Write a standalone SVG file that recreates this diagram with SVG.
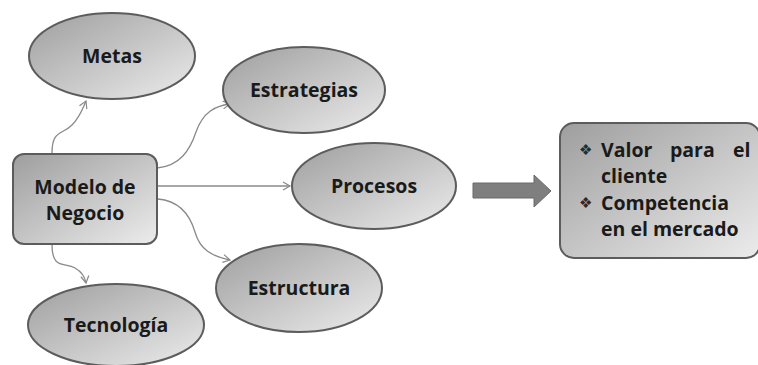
<svg xmlns="http://www.w3.org/2000/svg" width="758" height="365" viewBox="0 0 758 365">
<defs>
<linearGradient id="g" x1="0" y1="0" x2="1" y2="1">
<stop offset="0" stop-color="#9e9e9e"/>
<stop offset="1" stop-color="#ececec"/>
</linearGradient>
<marker id="ah" markerWidth="10" markerHeight="10" refX="8" refY="5" orient="auto" markerUnits="userSpaceOnUse">
<path d="M1,1 L8,5 L1,9" fill="none" stroke="#8a8a8a" stroke-width="1.2"/>
</marker>
</defs>
<style>
.n{fill:url(#g);stroke:#5c5c5c;stroke-width:2}
.t{font-family:"Open Sans","Liberation Sans",sans-serif;font-weight:bold;font-size:19.5px;fill:#1a1a1a;text-anchor:middle}
.c{fill:none;stroke:#8a8a8a;stroke-width:1.3;marker-end:url(#ah)}
.r{font-family:"Open Sans","Liberation Sans",sans-serif;font-weight:bold;font-size:19.5px;fill:#1a1a1a}
.b{font-family:"DejaVu Sans",sans-serif;font-size:15px;fill:#2a2a2a}
</style>
<rect width="758" height="365" fill="#fff"/>
<g id="connectors">
<path class="c" d="M52,153 C52,130 62,135 72,125 C80,117 82,110 86,101"/>
<path class="c" d="M157,168 C180,166 190,150 196,132 C203,112 215,106 230,104"/>
<path class="c" d="M157,186 L290,186"/>
<path class="c" d="M158,199 C180,201 190,215 195,232 C200,250 212,256 230,260"/>
<path class="c" d="M52,245 C52,270 65,262 75,268 C82,272 85,277 86,283"/>
</g>
<g id="metas"><ellipse class="n" cx="112" cy="56" rx="83" ry="43"/><text class="t" x="112" y="63">Metas</text></g>
<g id="estrategias"><ellipse class="n" cx="304" cy="90" rx="81" ry="43"/><text class="t" x="304" y="97">Estrategias</text></g>
<g id="procesos"><ellipse class="n" cx="374" cy="186" rx="82" ry="43"/><text class="t" x="374" y="193">Procesos</text></g>
<g id="estructura"><ellipse class="n" cx="299" cy="288" rx="83" ry="44"/><text class="t" x="299" y="295">Estructura</text></g>
<g id="tecnologia"><ellipse class="n" cx="116" cy="325" rx="88" ry="41"/><text class="t" x="116" y="332">Tecnología</text></g>
<g id="modelo"><rect class="n" x="13" y="154" width="144" height="90" rx="11"/><text class="t" x="85" y="194">Modelo de</text><text class="t" x="85" y="220">Negocio</text></g>
<g id="flecha"><path d="M473,183 L534,183 L534,175 L551,191 L534,207 L534,198 L473,198 Z" fill="#7f7f7f" stroke="#6a6a6a" stroke-width="1"/></g>
<g id="resultado"><rect class="n" x="560" y="123" width="200" height="135" rx="14"/>
<text class="b" x="579" y="155">❖</text><text class="r" x="601" y="157">Valor</text><text class="r" x="670" y="157">para</text><text class="r" x="733" y="157">el</text>
<text class="r" x="601" y="183">cliente</text>
<text class="b" x="579" y="208">❖</text><text class="r" x="601" y="210">Competencia</text>
<text class="r" x="601" y="236">en el mercado</text>
</g>
</svg>
